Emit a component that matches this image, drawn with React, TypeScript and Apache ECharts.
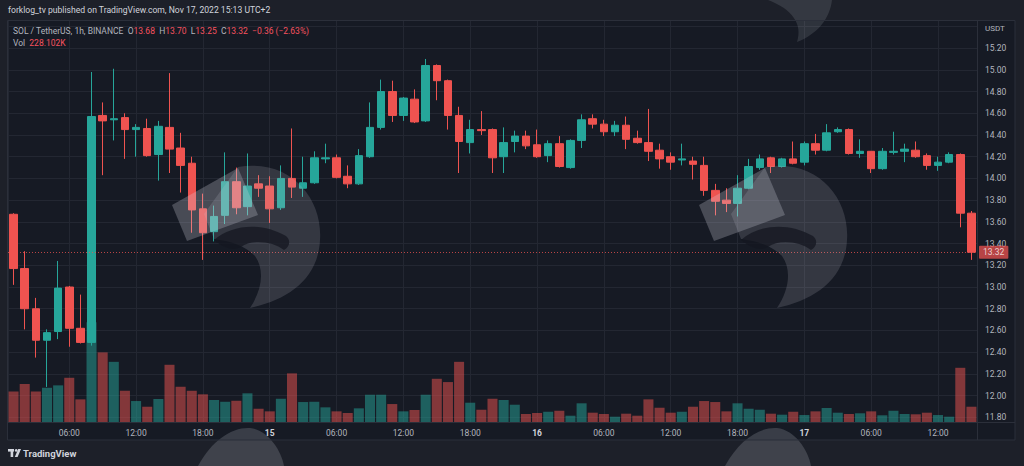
import React, { useEffect, useRef } from "react";
import * as echarts from "echarts";

// Nov 14 01:00 (UTC+2) .. Nov 17 15:00, 1h candles
const START_DAY = 14;
const START_HOUR = 1;

const opens = [
  13.67, 13.17, 12.8, 12.51, 12.59, 13.0, 12.62, 12.49, 14.58, 14.54,
  14.56, 14.45, 14.46, 14.22, 14.47, 14.28, 14.14, 13.72, 13.51, 13.66,
  13.97, 13.74, 13.95, 13.93, 13.73, 14.0, 13.91, 13.96, 14.18, 14.19,
  14.02, 13.95, 14.2, 14.47, 14.8, 14.58, 14.73, 14.53, 15.04, 14.9,
  14.58, 14.33, 14.45, 14.45, 14.2, 14.34, 14.39, 14.31, 14.21, 14.32,
  14.1, 14.35, 14.55, 14.5, 14.43, 14.49, 14.37, 14.33, 14.26, 14.2,
  14.17, 14.16, 14.12, 13.89, 13.8, 13.77, 13.91, 14.1, 14.19, 14.11,
  14.18, 14.15, 14.32, 14.26, 14.43, 14.45, 14.23, 14.25, 14.09, 14.24,
  14.25, 14.26, 14.21, 14.12, 14.15, 14.22, 13.68,
];
const highs = [
  13.68, 13.33, 12.9, 12.61, 13.24, 13.01, 12.93, 14.98, 14.7, 15.01,
  14.6, 14.5, 14.55, 14.53, 14.97, 14.42, 14.2, 13.86, 13.75, 14.24,
  14.1, 14.23, 14.03, 14.02, 14.12, 14.46, 14.2, 14.25, 14.32, 14.22,
  14.12, 14.27, 14.7, 14.91, 14.9, 14.75, 14.82, 15.1, 15.05, 14.91,
  14.66, 14.54, 14.62, 14.46, 14.47, 14.44, 14.44, 14.45, 14.35, 14.39,
  14.36, 14.59, 14.59, 14.54, 14.53, 14.57, 14.44, 14.64, 14.32, 14.24,
  14.32, 14.2, 14.2, 13.95, 13.91, 14.03, 14.18, 14.22, 14.2, 14.19,
  14.34, 14.34, 14.41, 14.5, 14.47, 14.46, 14.36, 14.25, 14.28, 14.43,
  14.32, 14.34, 14.23, 14.2, 14.24, 14.23, 13.7,
];
const lows = [
  13.02, 12.61, 12.35, 12.08, 12.52, 12.45, 12.48, 12.46, 14.03, 14.35,
  14.18, 14.2, 14.2, 13.98, 14.05, 13.87, 13.5, 13.25, 13.42, 13.58,
  13.67, 13.66, 13.83, 13.59, 13.71, 13.82, 13.83, 13.95, 14.14, 14.0,
  13.91, 13.94, 14.19, 14.45, 14.52, 14.53, 14.51, 14.52, 14.72, 14.45,
  14.05, 14.23, 14.4, 14.05, 14.05, 14.24, 14.27, 14.19, 14.15, 14.1,
  14.09, 14.28, 14.46, 14.39, 14.39, 14.27, 14.32, 14.16, 14.09, 14.08,
  14.12, 13.99, 13.84, 13.66, 13.69, 13.65, 13.9, 14.08, 14.05, 14.1,
  14.13, 14.12, 14.22, 14.25, 14.42, 14.22, 14.19, 14.05, 14.08, 14.22,
  14.15, 14.19, 14.08, 14.07, 14.14, 13.55, 13.25,
];
const closes = [
  13.17, 12.8, 12.51, 12.58, 12.99, 12.62, 12.49, 14.57, 14.53, 14.55,
  14.45, 14.47, 14.21, 14.48, 14.27, 14.12, 13.71, 13.5, 13.65, 13.97,
  13.73, 13.93, 13.91, 13.72, 14.0, 13.92, 13.96, 14.19, 14.19, 14.01,
  13.95, 14.21, 14.47, 14.8, 14.58, 14.74, 14.52, 15.04, 14.9, 14.58,
  14.34, 14.45, 14.44, 14.19, 14.33, 14.39, 14.3, 14.2, 14.32, 14.11,
  14.35, 14.54, 14.5, 14.43, 14.49, 14.36, 14.33, 14.25, 14.18, 14.15,
  14.18, 14.13, 13.89, 13.79, 13.77, 13.91, 14.11, 14.18, 14.11, 14.18,
  14.14, 14.32, 14.26, 14.42, 14.45, 14.23, 14.25, 14.09, 14.25, 14.25,
  14.27, 14.2, 14.12, 14.15, 14.22, 13.68, 13.32,
];
// volume, thousands of SOL
const volumes = [
  457, 566, 457, 511, 547, 660, 338, 1490, 1039, 898,
  466, 313, 228, 343, 854, 526, 466, 413, 328, 302,
  317, 428, 198, 159, 347, 726, 298, 302, 219, 159,
  134, 204, 407, 407, 268, 159, 179, 407, 645, 596,
  898, 288, 183, 347, 328, 258, 119, 134, 153, 168,
  94, 279, 139, 119, 79, 124, 94, 338, 213, 139,
  153, 228, 313, 298, 159, 279, 198, 183, 124, 109,
  153, 104, 159, 209, 139, 119, 130, 159, 100, 168,
  119, 115, 139, 104, 79, 809, 228.102,
];

const PRICE_MIN = 11.757;
const PRICE_MAX = 15.459;
const PRICE_STEP = 0.2;
const VOL_AXIS_MAX = 6000;
const HOUR_STEP = 6;

const UP = "#26a69a";
const DOWN = "#ef5350";
const UP_VOL = "rgba(38,166,154,0.5)";
const DOWN_VOL = "rgba(239,83,80,0.5)";
const GRID_LINE = "#232732";
const FRAME = "#2b2f3a";
const TEXT = "#b2b5be";
const FONT = "Roboto, 'Noto Sans', sans-serif";

const pad = (n: number) => (n < 10 ? "0" + n : String(n));
const times = opens.map((_, i) => {
  const t = i + START_HOUR;
  return `Nov ${START_DAY + Math.floor(t / 24)} ${pad(t % 24)}:00`;
});

const BLOB =
  "M238 167 C290 158 323 198 320 240 C318 280 287 300 250 308 C262 290 265 270 255 256 C246 246 230 241 214 239 L204 214 Z";
const BEAK =
  "M214 240 C232 224 262 222 286 236 C291 240 290 247 284 250 C272 241 252 239 241 247 C233 251 224 248 214 240 Z";
const DOME = "M198 466 C212 440 232 427 250 428 C268 430 281 450 284 466 Z";
const TIP = "M768 0 L832 0 C830 18 818 34 797 42 C803 24 792 9 768 0 Z";

let registered = false;
function registerShapes() {
  if (registered) return;
  registered = true;
  echarts.graphic.registerShape("wmBlob", echarts.graphic.extendPath(BLOB, {}) as any);
  echarts.graphic.registerShape("wmBeak", echarts.graphic.extendPath(BEAK, {}) as any);
  echarts.graphic.registerShape("wmDome", echarts.graphic.extendPath(DOME, {}) as any);
  echarts.graphic.registerShape("wmTip", echarts.graphic.extendPath(TIP, {}) as any);
}

function eagle(dx: number) {
  return [
    {
      type: "polygon",
      x: dx,
      z: 50,
      silent: true,
      shape: { points: [[172, 205], [238, 168], [258, 215], [187, 241]] },
      style: { fill: "rgba(215,218,228,0.26)" },
    },
    { type: "wmBlob", x: dx, z: 51, silent: true, style: { fill: "rgba(200,203,214,0.17)" } },
    { type: "wmBeak", x: dx, z: 52, silent: true, style: { fill: "rgba(20,23,32,0.75)" } },
  ];
}

export default function App() {
  const ref = useRef<HTMLDivElement>(null);

  useEffect(() => {
    if (!ref.current) return;
    registerShapes();
    const chart = echarts.init(ref.current, undefined, { renderer: "svg" });

    const n = closes.length;
    const last = n - 1;
    const change = closes[last] - closes[last - 1];
    const pct = (change / closes[last - 1]) * 100;
    const sign = (v: number) => (v < 0 ? "\u2212" + Math.abs(v).toFixed(2) : "+" + v.toFixed(2));

    const candleData = opens.map((o, i) => [o, closes[i], lows[i], highs[i]]);
    const volData = volumes.map((v, i) => ({
      value: v,
      itemStyle: { color: closes[i] >= opens[i] ? UP_VOL : DOWN_VOL },
    }));

    const option: any = {
      animation: false,
      backgroundColor: "transparent",
      textStyle: { fontFamily: FONT },
      grid: { left: 8, right: 47, top: 20, bottom: 44, containLabel: false },
      xAxis: [
        {
          type: "category",
          data: times,
          boundaryGap: true,
          show: false,
        },
        {
          type: "value",
          min: 0.5,
          max: n + 0.5,
          minInterval: HOUR_STEP,
          maxInterval: HOUR_STEP,
          position: "bottom",
          axisLine: { show: false },
          axisTick: { show: false },
          splitLine: { show: true, lineStyle: { color: GRID_LINE, width: 1 } },
          axisLabel: {
            color: TEXT,
            fontSize: 8.5,
            margin: 6,
            showMinLabel: false,
            showMaxLabel: false,
            formatter: (v: number) => {
              const t = Math.round(v);
              if (t % 24 === 0) return "{d|" + (START_DAY + t / 24) + "}";
              return pad(t % 24) + ":00";
            },
            rich: { d: { fontWeight: "bold", color: "#d1d4dc", fontSize: 8.5, fontFamily: FONT } },
          },
        },
      ],
      yAxis: [
        {
          type: "value",
          position: "right",
          min: PRICE_MIN,
          max: PRICE_MAX,
          minInterval: PRICE_STEP,
          maxInterval: PRICE_STEP,
          axisLine: { show: false },
          axisTick: { show: false },
          splitLine: { show: true, lineStyle: { color: GRID_LINE, width: 1 } },
          axisLabel: {
            color: TEXT,
            fontSize: 8.5,
            margin: 8,
            formatter: (v: number) => (v < PRICE_MIN + 0.03 || v > 15.3 ? "" : v.toFixed(2)),
          },
        },
        { type: "value", min: 0, max: VOL_AXIS_MAX, show: false },
      ],
      series: [
        {
          type: "bar",
          name: "Vol",
          xAxisIndex: 0,
          yAxisIndex: 1,
          data: volData,
          barCategoryGap: "10%",
          z: 1,
        },
        {
          type: "candlestick",
          name: "SOL/USDT",
          xAxisIndex: 0,
          yAxisIndex: 0,
          data: candleData,
          barWidth: 8,
          z: 3,
          itemStyle: {
            color: UP,
            color0: DOWN,
            borderColor: UP,
            borderColor0: DOWN,
            borderWidth: 1,
          },
          markLine: {
            silent: true,
            symbol: ["none", "none"],
            data: [{ yAxis: closes[last] }],
            lineStyle: { color: DOWN, type: [1, 2], width: 1, opacity: 0.75 },
            label: {
              show: true,
              position: "end",
              distance: 2,
              formatter: closes[last].toFixed(2),
              backgroundColor: DOWN,
              color: "#ffffff",
              fontSize: 8.5,
              fontFamily: FONT,
              padding: [2, 4, 2, 4],
              borderRadius: 1,
            },
          },
        },
      ],
      graphic: [
        ...eagle(0),
        ...eagle(527),
        { type: "wmDome", x: 0, z: 50, silent: true, style: { fill: "rgba(200,203,214,0.2)" } },
        { type: "wmDome", x: 527, z: 50, silent: true, style: { fill: "rgba(200,203,214,0.2)" } },
        { type: "wmTip", x: 0, z: 50, silent: true, style: { fill: "rgba(200,203,214,0.14)" } },
        // frame
        {
          type: "rect",
          z: 60,
          silent: true,
          shape: { x: 7.5, y: 20.5, width: 1007.5, height: 419.5 },
          style: { fill: "none", stroke: FRAME, lineWidth: 1 },
        },
        {
          type: "line",
          z: 60,
          silent: true,
          shape: { x1: 977.5, y1: 20, x2: 977.5, y2: 440 },
          style: { stroke: FRAME, lineWidth: 1 },
        },
        {
          type: "line",
          z: 60,
          silent: true,
          shape: { x1: 7, y1: 422.5, x2: 1015, y2: 422.5 },
          style: { stroke: FRAME, lineWidth: 1 },
        },
        {
          type: "text",
          z: 70,
          x: 8,
          y: 5,
          style: {
            text: "forklog_tv published on TradingView.com, Nov 17, 2022 15:13 UTC+2",
            fill: "#d1d4dc",
            fontSize: 8.6,
            fontFamily: FONT,
          },
        },
        {
          type: "text",
          z: 70,
          x: 985,
          y: 24,
          style: { text: "USDT", fill: TEXT, fontSize: 8, fontFamily: FONT },
        },
        {
          type: "text",
          z: 70,
          x: 13,
          y: 26,
          style: {
            text:
              "{t|SOL / TetherUS, 1h, BINANCE}  {t|O}{v|" +
              opens[last].toFixed(2) +
              "}  {t|H}{v|" +
              highs[last].toFixed(2) +
              "}  {t|L}{v|" +
              lows[last].toFixed(2) +
              "}  {t|C}{v|" +
              closes[last].toFixed(2) +
              "}  {v|" +
              sign(change) +
              " (" +
              sign(pct) +
              "%)}",
            fontSize: 8.5,
            fontFamily: FONT,
            rich: {
              t: { fill: TEXT, fontSize: 8.5, fontFamily: FONT },
              v: { fill: "#f7525f", fontSize: 8.5, fontFamily: FONT },
            },
          },
        },
        {
          type: "text",
          z: 70,
          x: 13,
          y: 38,
          style: {
            text: "{t|Vol}  {v|" + volumes[last].toFixed(3) + "K}",
            fontSize: 8.5,
            fontFamily: FONT,
            rich: {
              t: { fill: TEXT, fontSize: 8.5, fontFamily: FONT },
              v: { fill: "#f7525f", fontSize: 8.5, fontFamily: FONT },
            },
          },
        },
        // TradingView logo
        {
          type: "group",
          z: 70,
          x: 8,
          y: 449,
          children: [
            { type: "rect", shape: { x: 0, y: 0, width: 6, height: 2.6 }, style: { fill: "#d1d4dc" } },
            { type: "rect", shape: { x: 2.6, y: 0, width: 2.6, height: 8 }, style: { fill: "#d1d4dc" } },
            { type: "circle", shape: { cx: 8.2, cy: 1.4, r: 1.4 }, style: { fill: "#d1d4dc" } },
            {
              type: "polygon",
              shape: { points: [[10.2, 0], [13, 0], [9.6, 8], [6.8, 8]] },
              style: { fill: "#d1d4dc" },
            },
            {
              type: "text",
              x: 15,
              y: -1,
              style: { text: "TradingView", fill: "#d1d4dc", fontSize: 9.5, fontWeight: "bold", fontFamily: FONT },
            },
          ],
        },
      ],
    };

    chart.setOption(option);
    return () => chart.dispose();
  }, []);

  return (
    <div
      style={{
        position: "fixed",
        left: 0,
        top: 0,
        width: 1024,
        height: 466,
        background: "#1d2029",
        overflow: "hidden",
      }}
    >
      <div
        style={{
          position: "absolute",
          left: 7,
          top: 20,
          width: 1008,
          height: 420,
          background: "#161a24",
        }}
      />
      <div ref={ref} style={{ position: "absolute", left: 0, top: 0, width: 1024, height: 466 }} />
    </div>
  );
}
